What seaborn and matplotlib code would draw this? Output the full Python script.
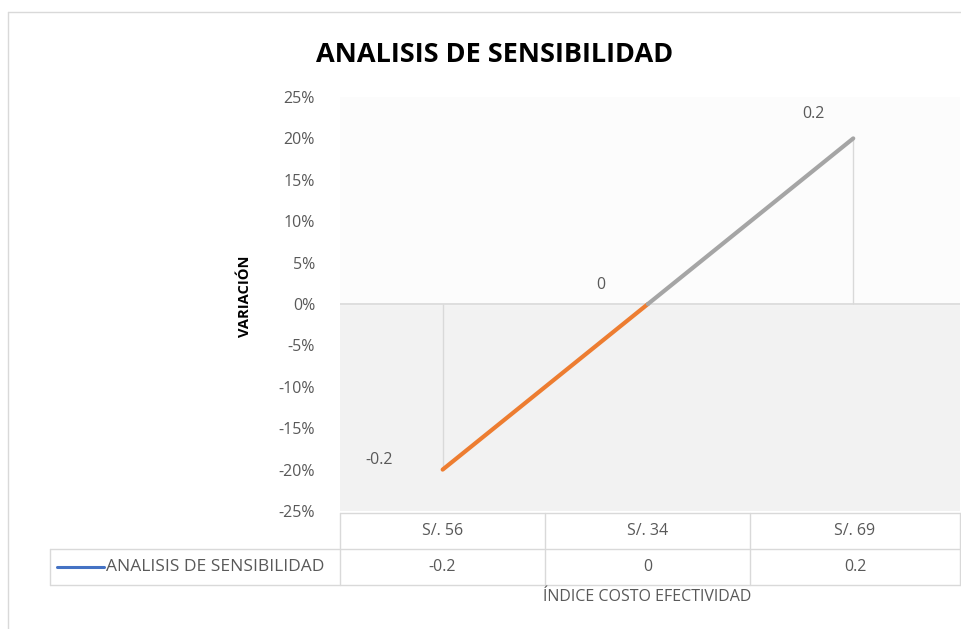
import pandas as pd
import matplotlib.pyplot as plt
import matplotlib.lines as mlines
import seaborn as sns

# Data
categories = ['S/. 56', 'S/. 34', 'S/. 69']
values = [-0.2, 0, 0.2]
value_labels = ['-0.2', '0', '0.2']
series_name = 'ANALISIS DE SENSIBILIDAD'
y_ticks = [-0.25, -0.20, -0.15, -0.10, -0.05, 0, 0.05, 0.10, 0.15, 0.20, 0.25]

sns.set_style('white')
plt.rcParams['font.family'] = ['Open Sans', 'DejaVu Sans']

grey_txt = '#595959'
orange = '#ed7d31'
grey_line = '#a5a5a5'

fig = plt.figure(figsize=(9.62, 6.29), dpi=100)
W, H = 962, 629


def fx(px):
    return px / W


def fy(py):
    return 1 - py / H


ax = fig.add_axes([fx(340), fy(511), fx(960) - fx(340), fy(97) - fy(511)])

# Segments: first half orange, second half grey
seg = pd.DataFrame({
    'x': [0, 1, 1, 2],
    'y': [values[0], values[1], values[1], values[2]],
    'seg': ['a', 'a', 'b', 'b'],
})
sns.lineplot(data=seg, x='x', y='y', hue='seg', palette=[orange, grey_line],
             linewidth=3, ax=ax, legend=False, sort=False)

# Drop lines
for i, v in enumerate(values):
    if v != 0:
        ax.vlines(i, 0, v, color='#d9d9d9', linewidth=1, zorder=1)

# Background shading
ax.axhspan(-0.25, 0, color='#f2f2f2', zorder=0)
ax.axhspan(0, 0.25, color='#fcfcfc', zorder=0)
ax.axhline(0, color='#d9d9d9', linewidth=1.2, zorder=1)

ax.set_xlim(-0.5, 2.52)
ax.set_ylim(-0.25, 0.25)
ax.set_yticks(y_ticks)
ax.set_yticklabels([f'{int(round(t * 100))}%' for t in y_ticks],
                   color=grey_txt, fontsize=11.5)
ax.tick_params(axis='y', length=0, pad=18)
ax.set_xticks([])
ax.set_xlabel('')
ax.set_ylabel('')
for s in ax.spines.values():
    s.set_visible(False)

# Data labels
offsets = [(-0.31, 0.011), (-0.23, 0.023), (-0.195, 0.029)]
for i, v in enumerate(values):
    dx, dy = offsets[i]
    ax.text(i + dx, v + dy, value_labels[i], ha='center', va='center',
            color=grey_txt, fontsize=11.5)

# Title and axis titles
fig.text(fx(495), fy(55), 'ANALISIS DE SENSIBILIDAD', ha='center', va='center',
         fontsize=19.5, fontweight='bold', color='black')
fig.text(fx(245), fy(296), 'VARIACIÓN', ha='center', va='center', rotation=90,
         fontsize=10.5, fontweight='bold', color='black')
fig.text(fx(647), fy(597), 'ÍNDICE COSTO EFECTIVIDAD', ha='center', va='center',
         fontsize=11.5, color=grey_txt)

# Data table
tcol = '#d9d9d9'
col_edges = [340, 545, 750, 960]
fig.add_artist(mlines.Line2D([fx(340), fx(960)], [fy(513), fy(513)], color=tcol, lw=1))
fig.add_artist(mlines.Line2D([fx(50), fx(960)], [fy(549), fy(549)], color=tcol, lw=1))
fig.add_artist(mlines.Line2D([fx(50), fx(960)], [fy(585), fy(585)], color=tcol, lw=1))
fig.add_artist(mlines.Line2D([fx(50), fx(50)], [fy(549), fy(585)], color=tcol, lw=1))
for xe in col_edges:
    fig.add_artist(mlines.Line2D([fx(xe), fx(xe)], [fy(513), fy(585)], color=tcol, lw=1))
for i, cat in enumerate(categories):
    cx = (col_edges[i] + col_edges[i + 1]) / 2
    fig.text(fx(cx), fy(531), cat, ha='center', va='center', color=grey_txt, fontsize=11.5)
    fig.text(fx(cx), fy(567), value_labels[i], ha='center', va='center', color=grey_txt, fontsize=11.5)
fig.add_artist(mlines.Line2D([fx(57), fx(104)], [fy(567), fy(567)], color='#4472c4', lw=2.2))
fig.text(fx(106), fy(567), series_name, ha='left', va='center', color=grey_txt, fontsize=12.5)

# Outer chart border
fig.add_artist(mlines.Line2D([fx(8), fx(962)], [fy(12), fy(12)], color='#d9d9d9', lw=1))
fig.add_artist(mlines.Line2D([fx(8), fx(8)], [fy(12), fy(629)], color='#d9d9d9', lw=1))

fig.savefig('out.png', dpi=100)
